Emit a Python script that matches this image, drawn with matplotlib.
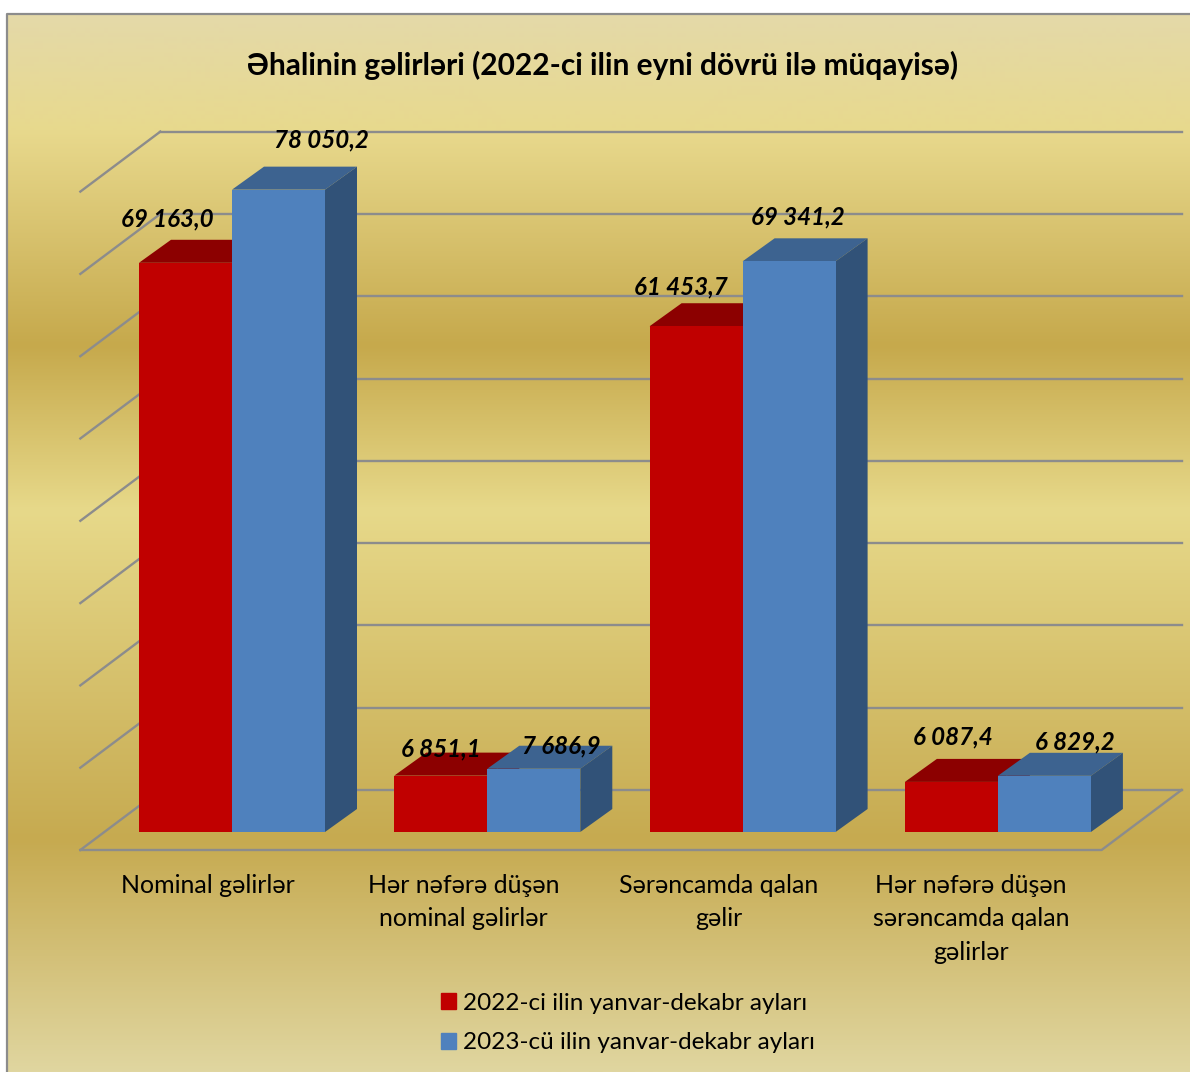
import matplotlib
matplotlib.use("Agg")
import matplotlib.pyplot as plt
import numpy as np
from matplotlib.patches import Patch

plt.rcParams["font.family"] = ["Lato", "Noto Sans", "DejaVu Sans"]

title = "Əhalinin gəlirləri (2022-ci ilin eyni dövrü ilə müqayisə)"
categories = ["Nominal gəlirlər", "Hər nəfərə düşən\nnominal gəlirlər",
              "Sərəncamda qalan\ngəlir", "Hər nəfərə düşən\nsərəncamda qalan\ngəlirlər"]
series_names = ["2022-ci ilin yanvar-dekabr ayları", "2023-cü ilin yanvar-dekabr ayları"]
values_2022 = [69163.0, 6851.1, 61453.7, 6087.4]
values_2023 = [78050.2, 7686.9, 69341.2, 6829.2]
grid_values = [0, 10000, 20000, 30000, 40000, 50000, 60000, 70000, 80000]

W, H = 1190, 1072
# scale of the chart, in pixels
PX_X = 255.3    # one category
PX_Y = 0.00823  # one unit of value
X0, Y0 = 208, 850

def fmt(v):
    s = f"{v:,.1f}"
    return s.replace(",", " ").replace(".", ",")

fig = plt.figure(figsize=(W / 100, H / 100), dpi=100, facecolor="white")

#Background gradient
bg = fig.add_axes([0, 0, 1, 1], zorder=0)
bg.axis("off")
stops_y = [14, 130, 345, 510, 840, 1072]
stops_c = ["#E4D9A9", "#E8D98D", "#C6A94C", "#E7D98A", "#C6AA50", "#E0D6A0"]
stops_rgb = np.array([matplotlib.colors.to_rgb(c) for c in stops_c])
rows = np.arange(14, H + 1)
grad = np.stack([np.interp(rows, stops_y, stops_rgb[:, k]) for k in range(3)], axis=1)
bg.imshow(grad[:, None, :], extent=(7, W, H, 14), aspect="auto", zorder=0)
bg.set_xlim(0, W)
bg.set_ylim(H, 0)
bg.plot([7, 7, W], [H, 14, 14], color="#8C8C8C", lw=1.6, zorder=1)

#Chart axes, value 0 of the front edge lies on the floor
ax = fig.add_axes([0, 0, 1, 1], zorder=1)
ax.patch.set_alpha(0)
ax.set_xlim(-X0 / PX_X, (W - X0) / PX_X)
ax.set_ylim((Y0 - H) / PX_Y, Y0 / PX_Y)
ax.axis("off")

def depth(px, py):
    return px / PX_X, py / PX_Y

wall_dx, wall_dy = depth(80, 60)
left, right = -0.5, 3.5
grid_c = "#8C8C8C"
for g in grid_values:
    ax.plot([left + wall_dx, right + wall_dx], [g + wall_dy, g + wall_dy], color=grid_c, lw=1.7, zorder=1)
    ax.plot([left, left + wall_dx], [g, g + wall_dy], color=grid_c, lw=1.7, zorder=1)
ax.plot([left, right, right + wall_dx], [0, 0, wall_dy], color=grid_c, lw=1.7, zorder=1)

#3D bars
front_dx, front_dy = depth(24, 18)
bar_dx, bar_dy = depth(32, 23)
bar_w = 93 / PX_X

def bar3d(x, v, front, top, side, z):
    x0 = x + front_dx
    y0 = front_dy
    ax.bar(x0, v, bar_w, bottom=y0, align="edge", color=front, zorder=z + 0.2)
    ax.fill([x0, x0 + bar_dx, x0 + bar_w + bar_dx, x0 + bar_w],
            [y0 + v, y0 + v + bar_dy, y0 + v + bar_dy, y0 + v], color=top, lw=0, zorder=z)
    ax.fill([x0 + bar_w, x0 + bar_w + bar_dx, x0 + bar_w + bar_dx, x0 + bar_w],
            [y0, y0 + bar_dy, y0 + v + bar_dy, y0 + v], color=side, lw=0, zorder=z + 0.1)

red = ("#C00000", "#8C0000", "#8C0000")
blue = ("#4F81BD", "#3D6390", "#315278")
for i in range(len(categories)):
    bar3d(i - bar_w, values_2022[i], *red, 3 + i)
    bar3d(i, values_2023[i], *blue, 3.5 + i)

#Value labels, offsets in pixels from the middle of the bar top
label_off = [(-18.5, 44), (43, 50), (0, 27), (28, 23), (-15, 39), (9, 44), (1, 45), (30, 34)]
k = 0
for i in range(len(categories)):
    for s, v in enumerate((values_2022[i], values_2023[i])):
        xc = i + front_dx + (s - 0.5) * bar_w
        off = label_off[k]
        ax.annotate(fmt(v), (xc, v + front_dy), xytext=(off[0] * 0.72, off[1] * 0.72),
                    textcoords="offset points", ha="center", va="center",
                    fontsize=17.4, fontweight="bold", fontstyle="italic", color="black", zorder=20)
        k += 1

#Category labels, the last one sits a little left of its slot
cat_off = [0, 0, 0, -3]
for i, c in enumerate(categories):
    ax.annotate(c, (i, (Y0 - 874) / PX_Y), xytext=(cat_off[i] * 0.72, 0), textcoords="offset points",
                ha="center", va="top", fontsize=18, linespacing=1.55, color="black", zorder=20)

fig.text(603 / W, 1 - 65 / H, title, ha="center", va="center", fontsize=21.5, fontweight="bold", color="black", zorder=5)

handles = [Patch(color=red[0]), Patch(color=blue[0])]
ax.legend(handles, series_names, loc="center", bbox_to_anchor=(628 / W, 1 - 1023 / H),
          frameon=False, fontsize=17.5, handlelength=0.62, handleheight=0.62,
          handletextpad=0.3, labelspacing=0.78, borderpad=0, borderaxespad=0)

fig.savefig("out.png", dpi=100)
